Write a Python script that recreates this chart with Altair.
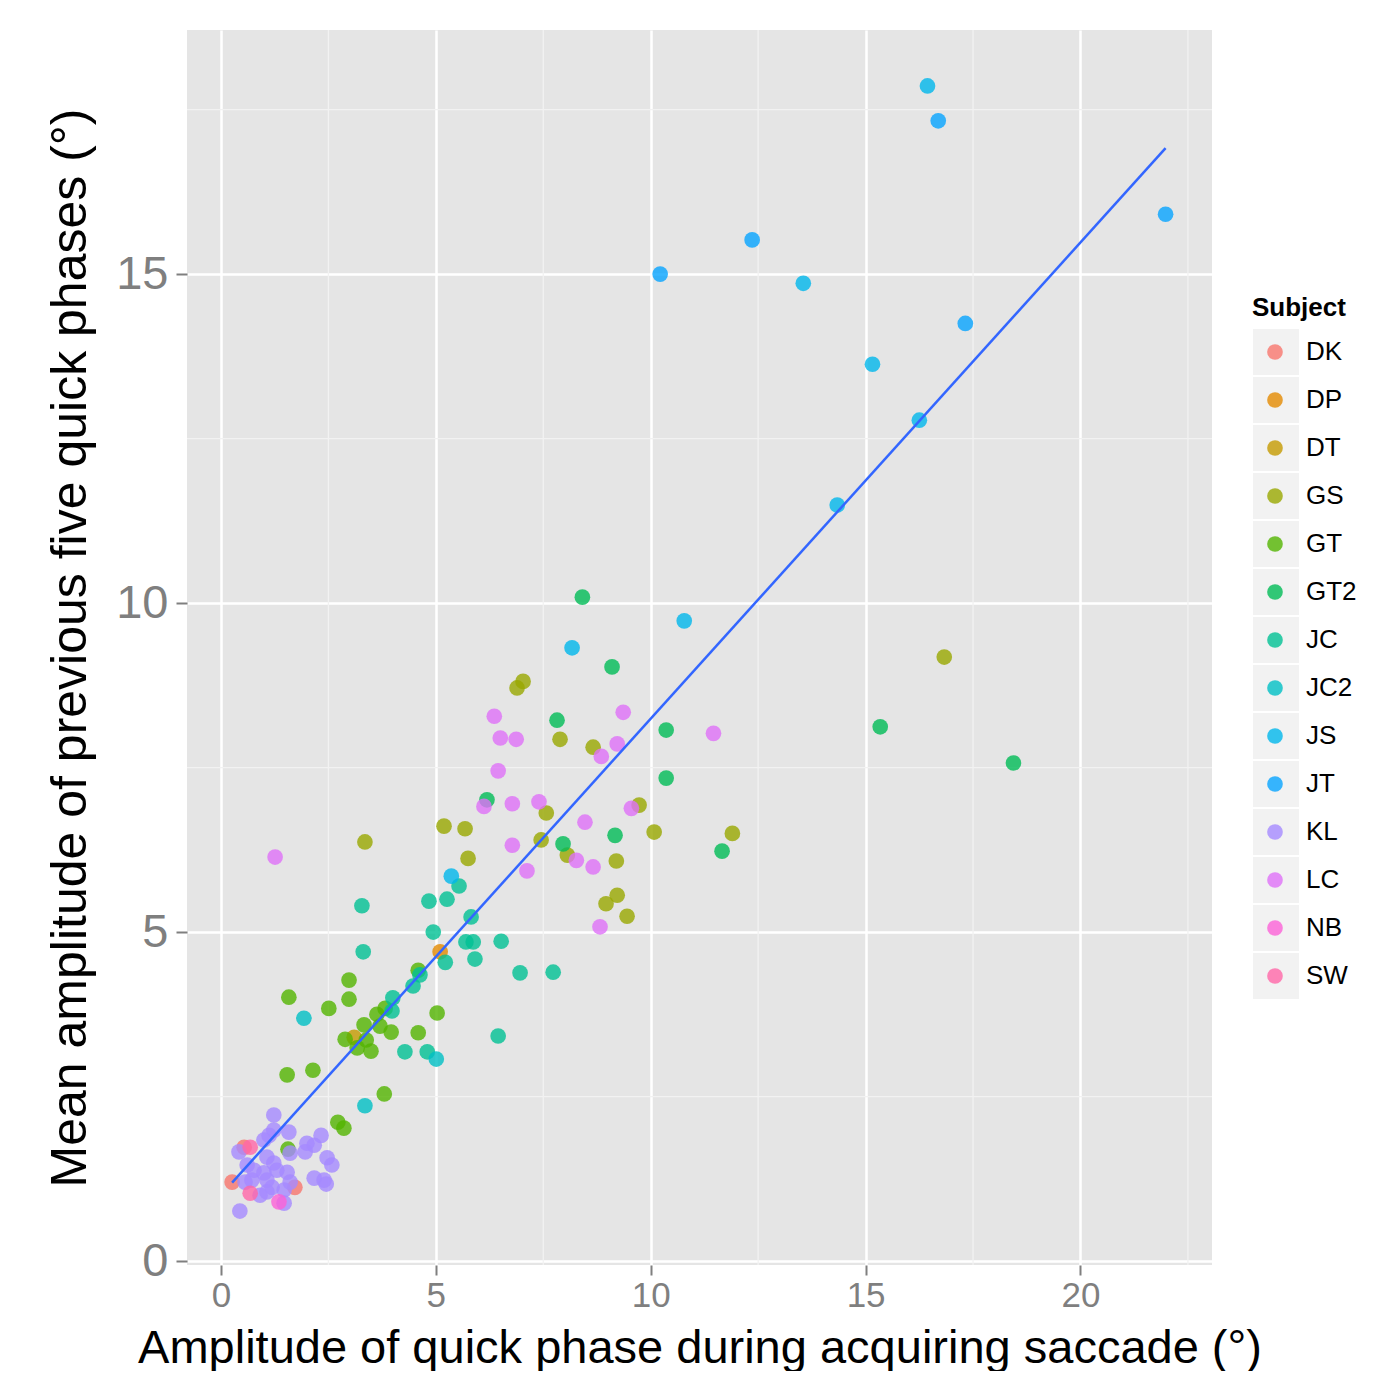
import altair as alt
import pandas as pd

subjects = ["DK", "DP", "DT", "GS", "GT", "GT2", "JC", "JC2", "JS", "JT", "KL", "LC", "NB", "SW"]
palette = ["#F8766D", "#E38900", "#C49A00", "#99A800", "#53B400", "#00BC56", "#00C094",
           "#00BFC4", "#00B6EB", "#06A4FF", "#A58AFF", "#DF70F8", "#FB61D7", "#FF66A8"]

DK_x = [0.26, 1.72, 0.54]
DK_y = [1.20, 1.12, 1.73]
DP_x = [5.10]
DP_y = [4.70]
DT_x = [3.10]
DT_y = [3.40]
GS_x = [5.19, 5.68, 5.75, 7.89, 8.66, 7.57, 7.45, 8.06, 9.73, 10.08, 9.20, 9.22, 8.96, 9.45, 6.89, 7.03, 3.35, 11.90, 16.83]
GS_y = [6.61, 6.57, 6.12, 7.93, 7.81, 6.81, 6.40, 6.17, 6.93, 6.52, 6.08, 5.56, 5.43, 5.24, 8.71, 8.81, 6.37, 6.50, 9.18]
GT_x = [1.58, 2.98, 2.98, 2.51, 4.59, 5.03, 4.59, 3.33, 3.63, 3.70, 3.96, 3.82, 2.89, 3.17, 3.38, 3.49, 1.54, 2.14, 2.72, 2.86, 3.80, 1.56]
GT_y = [4.01, 4.27, 3.98, 3.84, 4.42, 3.77, 3.47, 3.59, 3.75, 3.57, 3.48, 3.84, 3.37, 3.24, 3.36, 3.19, 2.83, 2.90, 2.11, 2.02, 2.54, 1.70]
GT2_x = [8.41, 9.10, 7.82, 10.36, 10.36, 6.19, 9.17, 7.96, 11.66, 15.34, 18.44]
GT2_y = [10.09, 9.03, 8.22, 8.07, 7.34, 7.01, 6.47, 6.34, 6.23, 8.12, 7.57]
JC_x = [3.28, 4.84, 5.26, 5.54, 5.82, 4.94, 5.70, 5.87, 6.52, 5.22, 5.91, 3.31, 6.96, 4.47, 4.63, 4.00, 3.98, 4.28, 4.80, 6.45, 7.73]
JC_y = [5.40, 5.47, 5.50, 5.70, 5.23, 5.00, 4.85, 4.85, 4.86, 4.54, 4.59, 4.70, 4.38, 4.18, 4.35, 4.00, 3.80, 3.18, 3.18, 3.42, 4.39]
JC2_x = [1.93, 3.35, 5.01]
JC2_y = [3.69, 2.36, 3.07]
JS_x = [16.44, 13.55, 15.16, 16.25, 14.34, 10.78, 8.17, 5.36]
JS_y = [17.86, 14.86, 13.63, 12.78, 11.49, 9.73, 9.32, 5.85]
JT_x = [16.69, 21.98, 12.36, 10.22, 17.32]
JT_y = [17.33, 15.91, 15.52, 15.00, 14.25]
KL_x = [1.23, 1.58, 1.12, 1.23, 1.00, 0.42, 1.61, 2.00, 2.17, 2.33, 1.96, 0.61, 1.23, 1.30, 1.54, 1.07, 2.47,
        2.58, 2.17, 2.40, 2.45, 0.56, 0.72, 1.07, 1.19, 0.91, 1.07, 1.47, 1.47, 0.44, 1.61, 0.77, 1.00]
KL_y = [2.22, 1.96, 1.91, 1.99, 1.84, 1.66, 1.64, 1.79, 1.76, 1.91, 1.66, 1.46, 1.49, 1.38, 1.35, 1.58, 1.57,
        1.46, 1.26, 1.23, 1.17, 1.20, 1.23, 1.23, 1.12, 1.00, 1.05, 1.08, 0.88, 0.76, 1.20, 1.38, 1.34]
LC_x = [6.36, 6.50, 6.87, 6.45, 6.12, 6.78, 7.40, 6.78, 7.12, 8.47, 8.27, 8.66, 8.85, 9.22, 9.36, 9.55, 8.82, 11.46, 1.26]
LC_y = [8.28, 7.95, 7.93, 7.45, 6.91, 6.95, 6.98, 6.32, 5.93, 6.67, 6.09, 5.99, 7.67, 7.86, 8.34, 6.88, 5.08, 8.02, 6.14]
NB_x = [1.35]
NB_y = [0.90]
SW_x = [0.68, 0.68]
SW_y = [1.73, 1.03]

x_major = [0, 5, 10, 15, 20]
y_major = [0, 5, 10, 15]
x_minor = [2.5, 7.5, 12.5, 17.5, 22.5]
y_minor = [2.5, 7.5, 12.5, 17.5]

series = {
    "DK": (DK_x, DK_y), "DP": (DP_x, DP_y), "DT": (DT_x, DT_y), "GS": (GS_x, GS_y),
    "GT": (GT_x, GT_y), "GT2": (GT2_x, GT2_y), "JC": (JC_x, JC_y), "JC2": (JC2_x, JC2_y),
    "JS": (JS_x, JS_y), "JT": (JT_x, JT_y), "KL": (KL_x, KL_y), "LC": (LC_x, LC_y),
    "NB": (NB_x, NB_y), "SW": (SW_x, SW_y),
}
rows = []
for s, (xs, ys) in series.items():
    for a, b in zip(xs, ys):
        rows.append({"Subject": s, "Key": "key_" + s, "x": a, "y": b})
df = pd.DataFrame(rows)
key_domain = ["key_" + s for s in subjects]

xdom = [-0.79, 23.06]
ydom = [-0.06, 18.71]
xscale = alt.Scale(domain=xdom, nice=False, zero=False)
yscale = alt.Scale(domain=ydom, nice=False, zero=False)

x_axis = alt.Axis(values=x_major, title="Amplitude of quick phase during acquiring saccade (°)",
                  labelFontSize=35, labelPadding=3, tickSize=10, titleY=97,
                  titleBaseline="alphabetic", titleFontSize=47)
y_axis = alt.Axis(values=y_major, title="Mean amplitude of previous five quick phases (°)",
                  labelFontSize=47, labelPadding=8, titleX=-102, titleBaseline="alphabetic",
                  titleAngle=270)

X = alt.X("x:Q", scale=xscale, axis=x_axis)
Y = alt.Y("y:Q", scale=yscale, axis=y_axis)

base = alt.Chart(df)

keys = base.transform_filter("false").mark_point(
    filled=True, shape="square", size=2116, color="#F2F2F2", opacity=1
).encode(
    x=X, y=Y,
    shape=alt.Shape("Key:N", scale=alt.Scale(domain=key_domain, range=["square"] * 14),
                    legend=alt.Legend(title=None, orient="none", legendX=1066, legendY=299,
                                      labelOpacity=0, labelFontSize=1, rowPadding=2,
                                      symbolSize=2116, symbolFillColor="#F2F2F2",
                                      symbolStrokeWidth=0, zindex=1)),
)

minor_x = alt.Chart(pd.DataFrame({"x": x_minor})).mark_rule(color="#F2F2F2", strokeWidth=1.3).encode(x=X)
minor_y = alt.Chart(pd.DataFrame({"y": y_minor})).mark_rule(color="#F2F2F2", strokeWidth=1.3).encode(y=Y)

points = base.mark_circle(size=246, opacity=0.8).encode(
    x=X, y=Y,
    color=alt.Color("Subject:N", scale=alt.Scale(domain=subjects, range=palette),
                    legend=alt.Legend(title="Subject", orient="none", legendX=1065, legendY=265,
                                      symbolType="circle", symbolSize=246, symbolOffset=10,
                                      labelOffset=18, titlePadding=18, rowPadding=22, zindex=2)),
)

fit = base.transform_regression("x", "y").mark_line(color="#3366FF", strokeWidth=2.5).encode(x=X, y=Y)

chart = alt.layer(keys, minor_x, minor_y, points, fit).properties(
    width=1025, height=1235,
    autosize=alt.AutoSizeParams(type="none"),
    padding={"left": 179, "top": 22, "right": 160, "bottom": 106},
).configure_view(fill="#E5E5E5", stroke=None).configure_axis(
    domain=False, gridColor="#FFFFFF", gridWidth=2.5, tickColor="#7F7F7F", tickSize=11, tickWidth=2,
    labelColor="#7F7F7F", labelFont="Liberation Sans", titleFont="Liberation Sans",
    titleFontSize=50, titleFontWeight="normal", titleColor="#000000"
).configure_legend(
    labelFont="Liberation Sans", titleFont="Liberation Sans", labelFontSize=26, titleFontSize=26,
    titleFontWeight="bold", labelColor="#000000", titleColor="#000000", padding=0
)

chart.save("out.html", embed_options={"renderer": "svg", "actions": False})
